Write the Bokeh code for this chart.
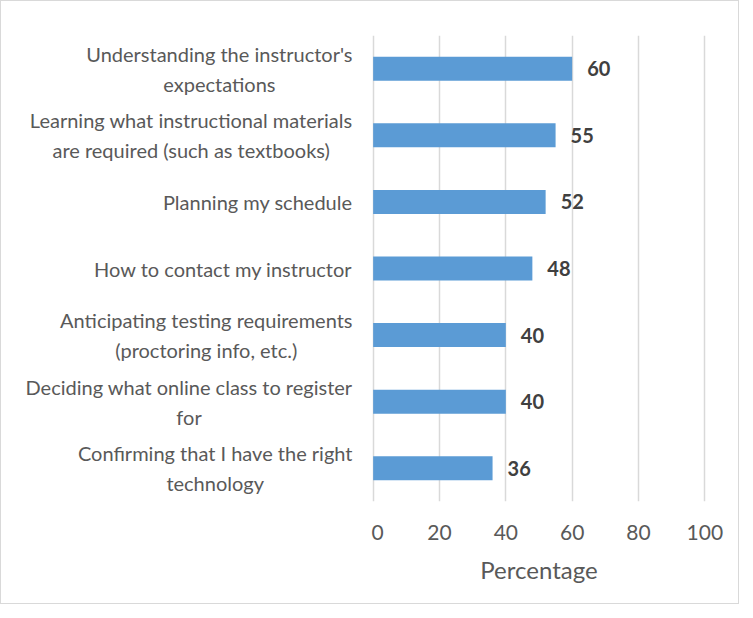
from bokeh.plotting import figure
from bokeh.models import FactorRange, ColumnDataSource, Range1d, FixedTicker
from bokeh.layouts import row
from bokeh.core.properties import value
from bokeh.embed import file_html
from bokeh.resources import INLINE

categories = [
    "Understanding the instructor's\nexpectations",
    "Learning what instructional materials\nare required (such as textbooks)",
    "Planning my schedule",
    "How to contact my instructor",
    "Anticipating testing requirements\n(proctoring info, etc.)",
    "Deciding what online class to register\nfor",
    "Confirming that I have the right\ntechnology",
]
values = [60, 55, 52, 48, 40, 40, 36]
x_ticks = [0, 20, 40, 60, 80, 100]

FONT = "Lato"
TOP, BOTTOM = 34, 102

src = ColumnDataSource(dict(cat=categories, val=values, lab=[str(v) for v in values],
                            edge=[1.0] * len(categories)))
y_range = FactorRange(factors=list(reversed(categories)))

# category label panel
lp = figure(width=370, height=602, y_range=y_range, x_range=Range1d(0, 1),
            output_backend="svg", toolbar_location=None,
            min_border_left=0, min_border_right=0, min_border_top=TOP, min_border_bottom=BOTTOM)
lp.axis.visible = False
lp.grid.visible = False
lp.outline_line_color = None
lp.text(x="edge", y="cat", text="cat", source=src, x_offset=-19,
        anchor=value("center_right"), text_align="center", text_baseline="middle",
        text_font=value(FONT), text_font_size="20px", text_color="#595959",
        text_line_height=1.25)

# main chart
p = figure(
    width=367, height=602, y_range=y_range, x_range=Range1d(-0.5, 100.5),
    output_backend="svg", toolbar_location=None,
    min_border_left=0, min_border_right=32, min_border_top=TOP, min_border_bottom=BOTTOM,
)
p.hbar(y="cat", right="val", left=0, height=0.36, source=src, color="#5b9bd5", line_color=None)
p.text(x="val", y="cat", text="lab", source=src, x_offset=15,
       text_font=value(FONT), text_font_style="bold", text_font_size="20px",
       text_color="#404040", text_align="left", text_baseline="middle")

p.outline_line_color = None
p.ygrid.grid_line_color = None
p.xgrid.grid_line_color = "#d9d9d9"
p.xgrid.grid_line_width = 1.5
p.xaxis.ticker = FixedTicker(ticks=x_ticks)
p.yaxis.visible = False

p.xaxis.axis_line_color = None
p.xaxis.major_tick_line_color = None
p.xaxis.minor_tick_line_color = None
p.xaxis.major_label_text_font = FONT
p.xaxis.major_label_text_color = "#595959"
p.xaxis.major_label_text_font_size = "21px"
p.xaxis.major_label_standoff = 17
p.xaxis.axis_label = "Percentage"
p.xaxis.axis_label_text_font = FONT
p.xaxis.axis_label_text_font_size = "24px"
p.xaxis.axis_label_text_font_style = "normal"
p.xaxis.axis_label_text_color = "#595959"
p.xaxis.axis_label_standoff = 12

layout = row(lp, p, styles={"border": "1px solid #d9d9d9"})

open("out.html", "w").write(file_html(layout, INLINE))
